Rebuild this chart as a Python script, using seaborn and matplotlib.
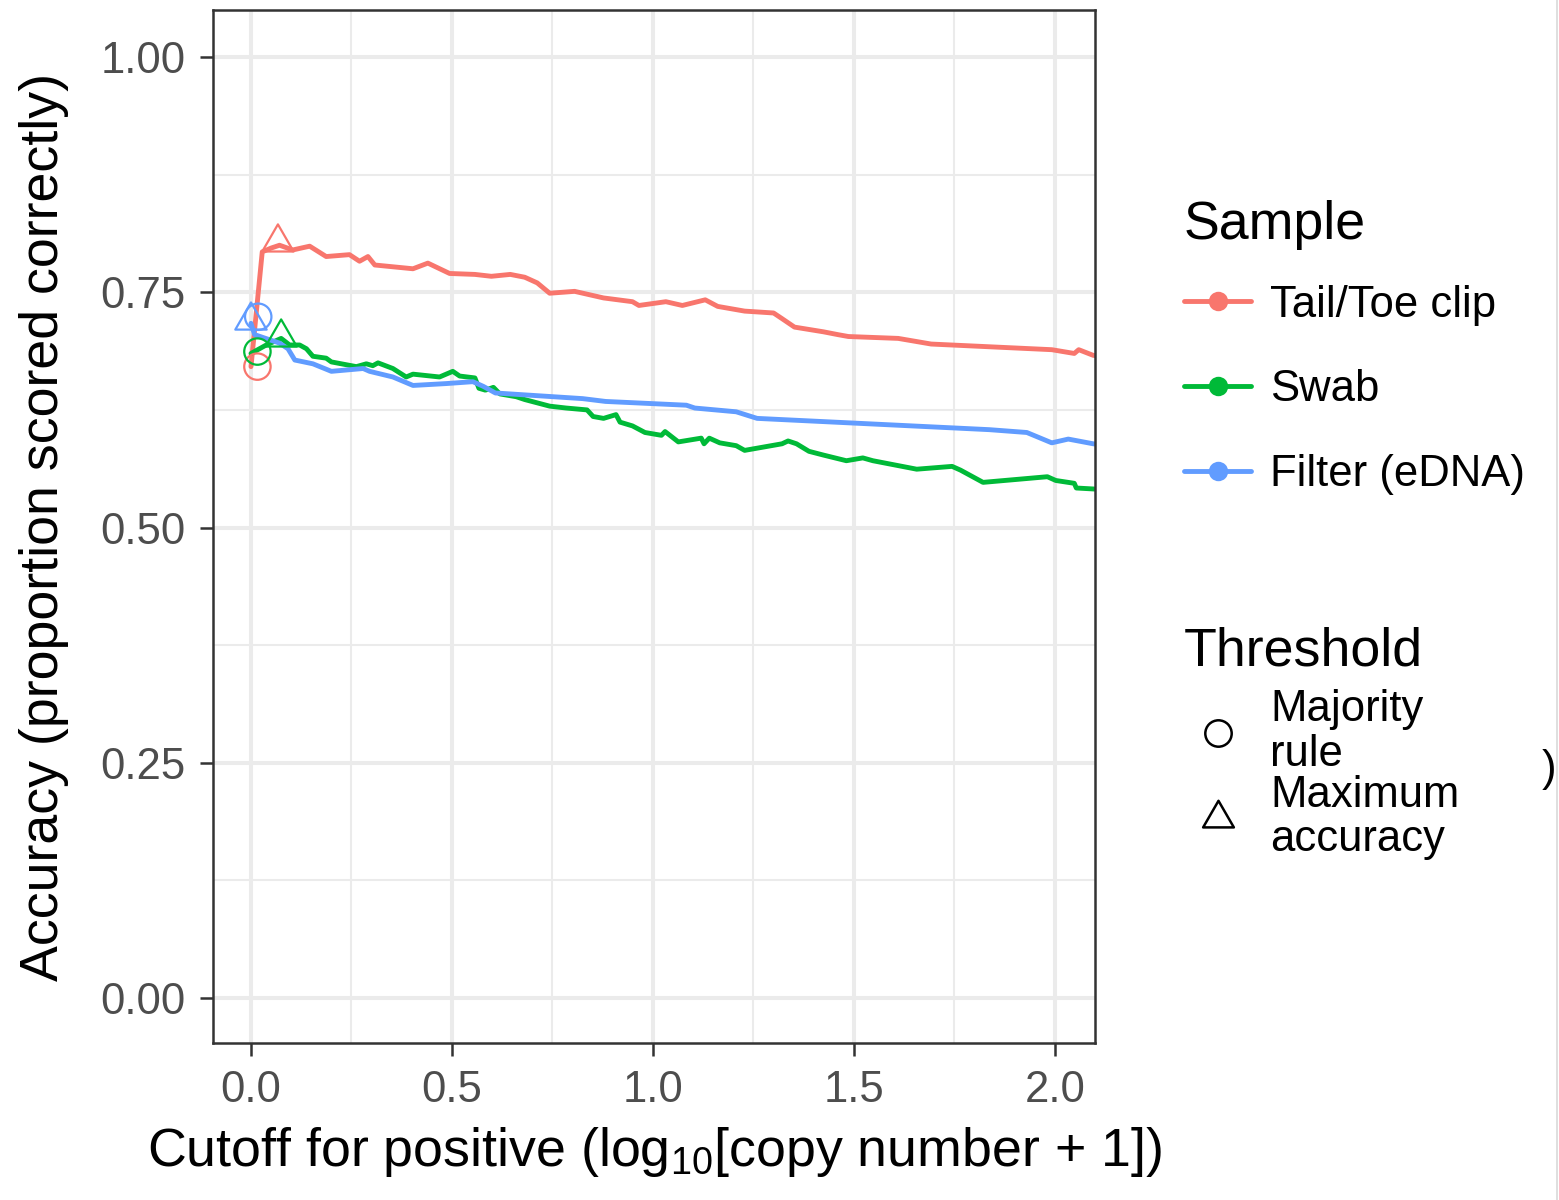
import numpy as np
import pandas as pd
import matplotlib
matplotlib.use("Agg")
import matplotlib.pyplot as plt
import seaborn as sns
from matplotlib.lines import Line2D
from matplotlib.path import Path
from matplotlib.markers import MarkerStyle

# ---------------- data ----------------
samples = ["Tail/Toe clip", "Swab", "Filter (eDNA)"]
colors = ["#F8766D", "#00BA38", "#619CFF"]

tail_x = [0.000, 0.028, 0.050, 0.071, 0.104, 0.146, 0.187, 0.245, 0.270, 0.291, 0.308,
          0.403, 0.440, 0.494, 0.557, 0.598, 0.645, 0.681, 0.712, 0.743, 0.805, 0.877,
          0.949, 0.965, 1.032, 1.073, 1.130, 1.161, 1.228, 1.300, 1.321, 1.352, 1.424,
          1.460, 1.486, 1.610, 1.692, 1.992, 2.048, 2.059, 2.095, 2.130]
tail_y = [0.671, 0.793, 0.797, 0.800, 0.795, 0.799, 0.788, 0.790, 0.783, 0.788, 0.779,
          0.775, 0.781, 0.770, 0.769, 0.767, 0.769, 0.766, 0.760, 0.749, 0.751, 0.744,
          0.740, 0.736, 0.740, 0.736, 0.742, 0.735, 0.730, 0.728, 0.722, 0.713, 0.708,
          0.705, 0.703, 0.701, 0.695, 0.689, 0.685, 0.689, 0.683, 0.681]

swab_x = [0.000, 0.038, 0.075, 0.096, 0.121, 0.138, 0.154, 0.187, 0.200, 0.262, 0.287,
          0.303, 0.316, 0.353, 0.386, 0.403, 0.469, 0.502, 0.519, 0.557, 0.567, 0.583,
          0.603, 0.619, 0.660, 0.681, 0.743, 0.784, 0.836, 0.851, 0.877, 0.908, 0.918,
          0.949, 0.980, 1.021, 1.030, 1.042, 1.063, 1.120, 1.127, 1.140, 1.166, 1.207,
          1.228, 1.321, 1.336, 1.357, 1.388, 1.424, 1.481, 1.522, 1.547, 1.656, 1.744,
          1.765, 1.821, 1.981, 2.002, 2.048, 2.053, 2.095, 2.130]
swab_y = [0.685, 0.694, 0.701, 0.694, 0.694, 0.690, 0.682, 0.680, 0.676, 0.671, 0.674,
          0.672, 0.675, 0.669, 0.660, 0.663, 0.660, 0.666, 0.661, 0.659, 0.648, 0.646,
          0.649, 0.642, 0.639, 0.636, 0.629, 0.627, 0.625, 0.618, 0.616, 0.620, 0.612,
          0.608, 0.601, 0.598, 0.602, 0.598, 0.591, 0.595, 0.589, 0.595, 0.590, 0.587,
          0.582, 0.589, 0.592, 0.589, 0.581, 0.577, 0.571, 0.574, 0.571, 0.562, 0.565,
          0.561, 0.548, 0.554, 0.550, 0.547, 0.542, 0.541, 0.540]

filt_x = [0.000, 0.009, 0.071, 0.092, 0.109, 0.154, 0.200, 0.279, 0.295, 0.353, 0.403,
          0.486, 0.552, 0.578, 0.608, 0.825, 0.882, 1.083, 1.104, 1.207, 1.259, 1.837,
          1.930, 1.992, 2.033, 2.095, 2.130]
filt_y = [0.717, 0.705, 0.696, 0.690, 0.678, 0.674, 0.666, 0.669, 0.666, 0.660, 0.651,
          0.653, 0.655, 0.650, 0.643, 0.637, 0.634, 0.630, 0.627, 0.623, 0.616, 0.604,
          0.601, 0.590, 0.594, 0.589, 0.587]

thresholds = ["Majority rule", "Maximum accuracy"]
thr_sample = ["Tail/Toe clip", "Swab", "Filter (eDNA)",
              "Tail/Toe clip", "Swab", "Filter (eDNA)"]
thr_type = ["Majority rule", "Majority rule", "Majority rule",
            "Maximum accuracy", "Maximum accuracy", "Maximum accuracy"]
thr_x = [0.016, 0.016, 0.018, 0.067, 0.075, 0.000]
thr_y = [0.671, 0.687, 0.724, 0.803, 0.702, 0.720]

x_ticks = [0.0, 0.5, 1.0, 1.5, 2.0]
x_ticklabels = ["0.0", "0.5", "1.0", "1.5", "2.0"]
y_ticks = [0.00, 0.25, 0.50, 0.75, 1.00]
y_ticklabels = ["0.00", "0.25", "0.50", "0.75", "1.00"]

# ---------------- frames ----------------
lines_df = pd.concat([
    pd.DataFrame({"cutoff": tail_x, "accuracy": tail_y, "sample": samples[0]}),
    pd.DataFrame({"cutoff": swab_x, "accuracy": swab_y, "sample": samples[1]}),
    pd.DataFrame({"cutoff": filt_x, "accuracy": filt_y, "sample": samples[2]}),
], ignore_index=True)
pts_df = pd.DataFrame({"cutoff": thr_x, "accuracy": thr_y,
                       "sample": thr_sample, "threshold": thr_type})

# ---------------- style ----------------
sns.set_theme(style="white")
plt.rcParams["font.family"] = ["Liberation Sans", "DejaVu Sans"]
plt.rcParams["text.color"] = "black"
plt.rcParams["axes.labelcolor"] = "black"
plt.rcParams["mathtext.fontset"] = "custom"
plt.rcParams["mathtext.rm"] = "Liberation Sans"
plt.rcParams["mathtext.it"] = "Liberation Sans:italic"
plt.rcParams["mathtext.bf"] = "Liberation Sans:bold"

TXT = 31.4     # tick / legend text size (pt)
TTL = 38.7     # titles (pt)

W, H = 1559, 1200
fig = plt.figure(figsize=(W / 100, H / 100), dpi=100)
fig.patch.set_facecolor("white")
L, R, T, B = 213, 1095, 10, 1043
ax = fig.add_axes([L / W, 1 - B / H, (R - L) / W, (B - T) / H])
ax.set_facecolor("white")

palette = dict(zip(samples, colors))

# triangle with centroid at origin (like R's pch 2)
tri_path = Path([(0, 16.7), (-14.5, -8.4), (14.5, -8.4), (0, 16.7)],
                [Path.MOVETO, Path.LINETO, Path.LINETO, Path.CLOSEPOLY])
tri_marker = MarkerStyle(tri_path)

sns.lineplot(data=lines_df, x="cutoff", y="accuracy", hue="sample",
             palette=palette, hue_order=samples, estimator=None, sort=False,
             linewidth=3.5, legend=False, ax=ax, zorder=3)

sns.scatterplot(data=pts_df, x="cutoff", y="accuracy", hue="sample",
                palette=palette, hue_order=samples, style="threshold",
                style_order=thresholds,
                markers={"Majority rule": "o", "Maximum accuracy": tri_marker},
                size="threshold", size_order=thresholds,
                sizes={"Majority rule": 19.0 ** 2, "Maximum accuracy": 26.0 ** 2},
                linewidth=1.6, legend=False, ax=ax, zorder=4)
coll = ax.collections[-1]
fc = coll.get_facecolors()
coll.set_edgecolors(fc)
coll.set_facecolors("none")
coll.set_linewidths(1.6)

# axes limits, grid
ax.set_xlim(-0.0945, 2.0995)
ax.set_ylim(-0.0478, 1.05)
ax.set_xticks(x_ticks)
ax.set_xticklabels(x_ticklabels)
ax.set_yticks(y_ticks)
ax.set_yticklabels(y_ticklabels)
ax.set_xticks([0.25, 0.75, 1.25, 1.75], minor=True)
ax.set_yticks([0.125, 0.375, 0.625, 0.875], minor=True)
ax.grid(True, which="major", color="#EBEBEB", linewidth=2.9, zorder=0)
ax.grid(True, which="minor", color="#EBEBEB", linewidth=1.5, zorder=0)
ax.set_axisbelow(True)

for sp in ax.spines.values():
    sp.set_visible(True)
    sp.set_color("#333333")
    sp.set_linewidth(1.8)
    sp.set_zorder(5)

ax.tick_params(axis="both", which="major", length=9.5, width=1.8, color="#333333",
               labelsize=TXT, labelcolor="#4D4D4D", pad=10, direction="out",
               bottom=True, left=True)
ax.tick_params(axis="both", which="minor", length=0)

ax.set_xlabel("Cutoff for positive (log$_{10}$[copy number + 1])", fontsize=TTL,
              color="black", labelpad=10)
ax.set_ylabel("Accuracy (proportion scored correctly)", fontsize=TTL,
              color="black", labelpad=23)

# ---------------- legends ----------------
h1 = [Line2D([], [], color=c, lw=3.5, marker="o", markersize=14,
             markeredgewidth=0) for c in colors]
leg1 = fig.legend(h1, samples, title="Sample", loc="upper left",
                  bbox_to_anchor=(1184 / W, 1 - 200 / H),
                  frameon=False, fontsize=TXT, title_fontsize=TTL,
                  handlelength=1.54, handletextpad=0.43, labelspacing=1.0,
                  borderpad=0, borderaxespad=0, alignment="left")
leg1._legend_box.sep = 25

h2 = [Line2D([], [], color="black", lw=0, marker="o", markersize=19,
             markerfacecolor="none", markeredgewidth=1.8),
      Line2D([], [], color="black", lw=0, marker=tri_marker, markersize=25.5,
             markerfacecolor="none", markeredgewidth=1.8)]
leg2 = fig.legend(h2, ["Majority\nrule", "Maximum\naccuracy"], title="Threshold",
                  loc="upper left", bbox_to_anchor=(1184 / W, 1 - 627 / H),
                  frameon=False, fontsize=TXT, title_fontsize=TTL,
                  handlelength=1.54, handletextpad=0.43, labelspacing=0.0,
                  borderpad=0, borderaxespad=0, alignment="left")
for t in leg2.get_texts():
    t.set_linespacing(1.1)
leg2._legend_box.sep = 9

for leg in (leg1, leg2):
    leg.get_title().set_color("black")
    for t in leg.get_texts():
        t.set_color("black")

# screenshot edge artifacts
fig.add_artist(Line2D([1556.5 / W, 1556.5 / W], [0, 1], transform=fig.transFigure,
                      color="#D9D9D9", lw=1.2))
fig.text(1556 / W, 1 - 769 / H, ")", fontsize=TXT, va="center", ha="right",
         color="black")

fig.savefig("out.png", dpi=100, facecolor="white")
